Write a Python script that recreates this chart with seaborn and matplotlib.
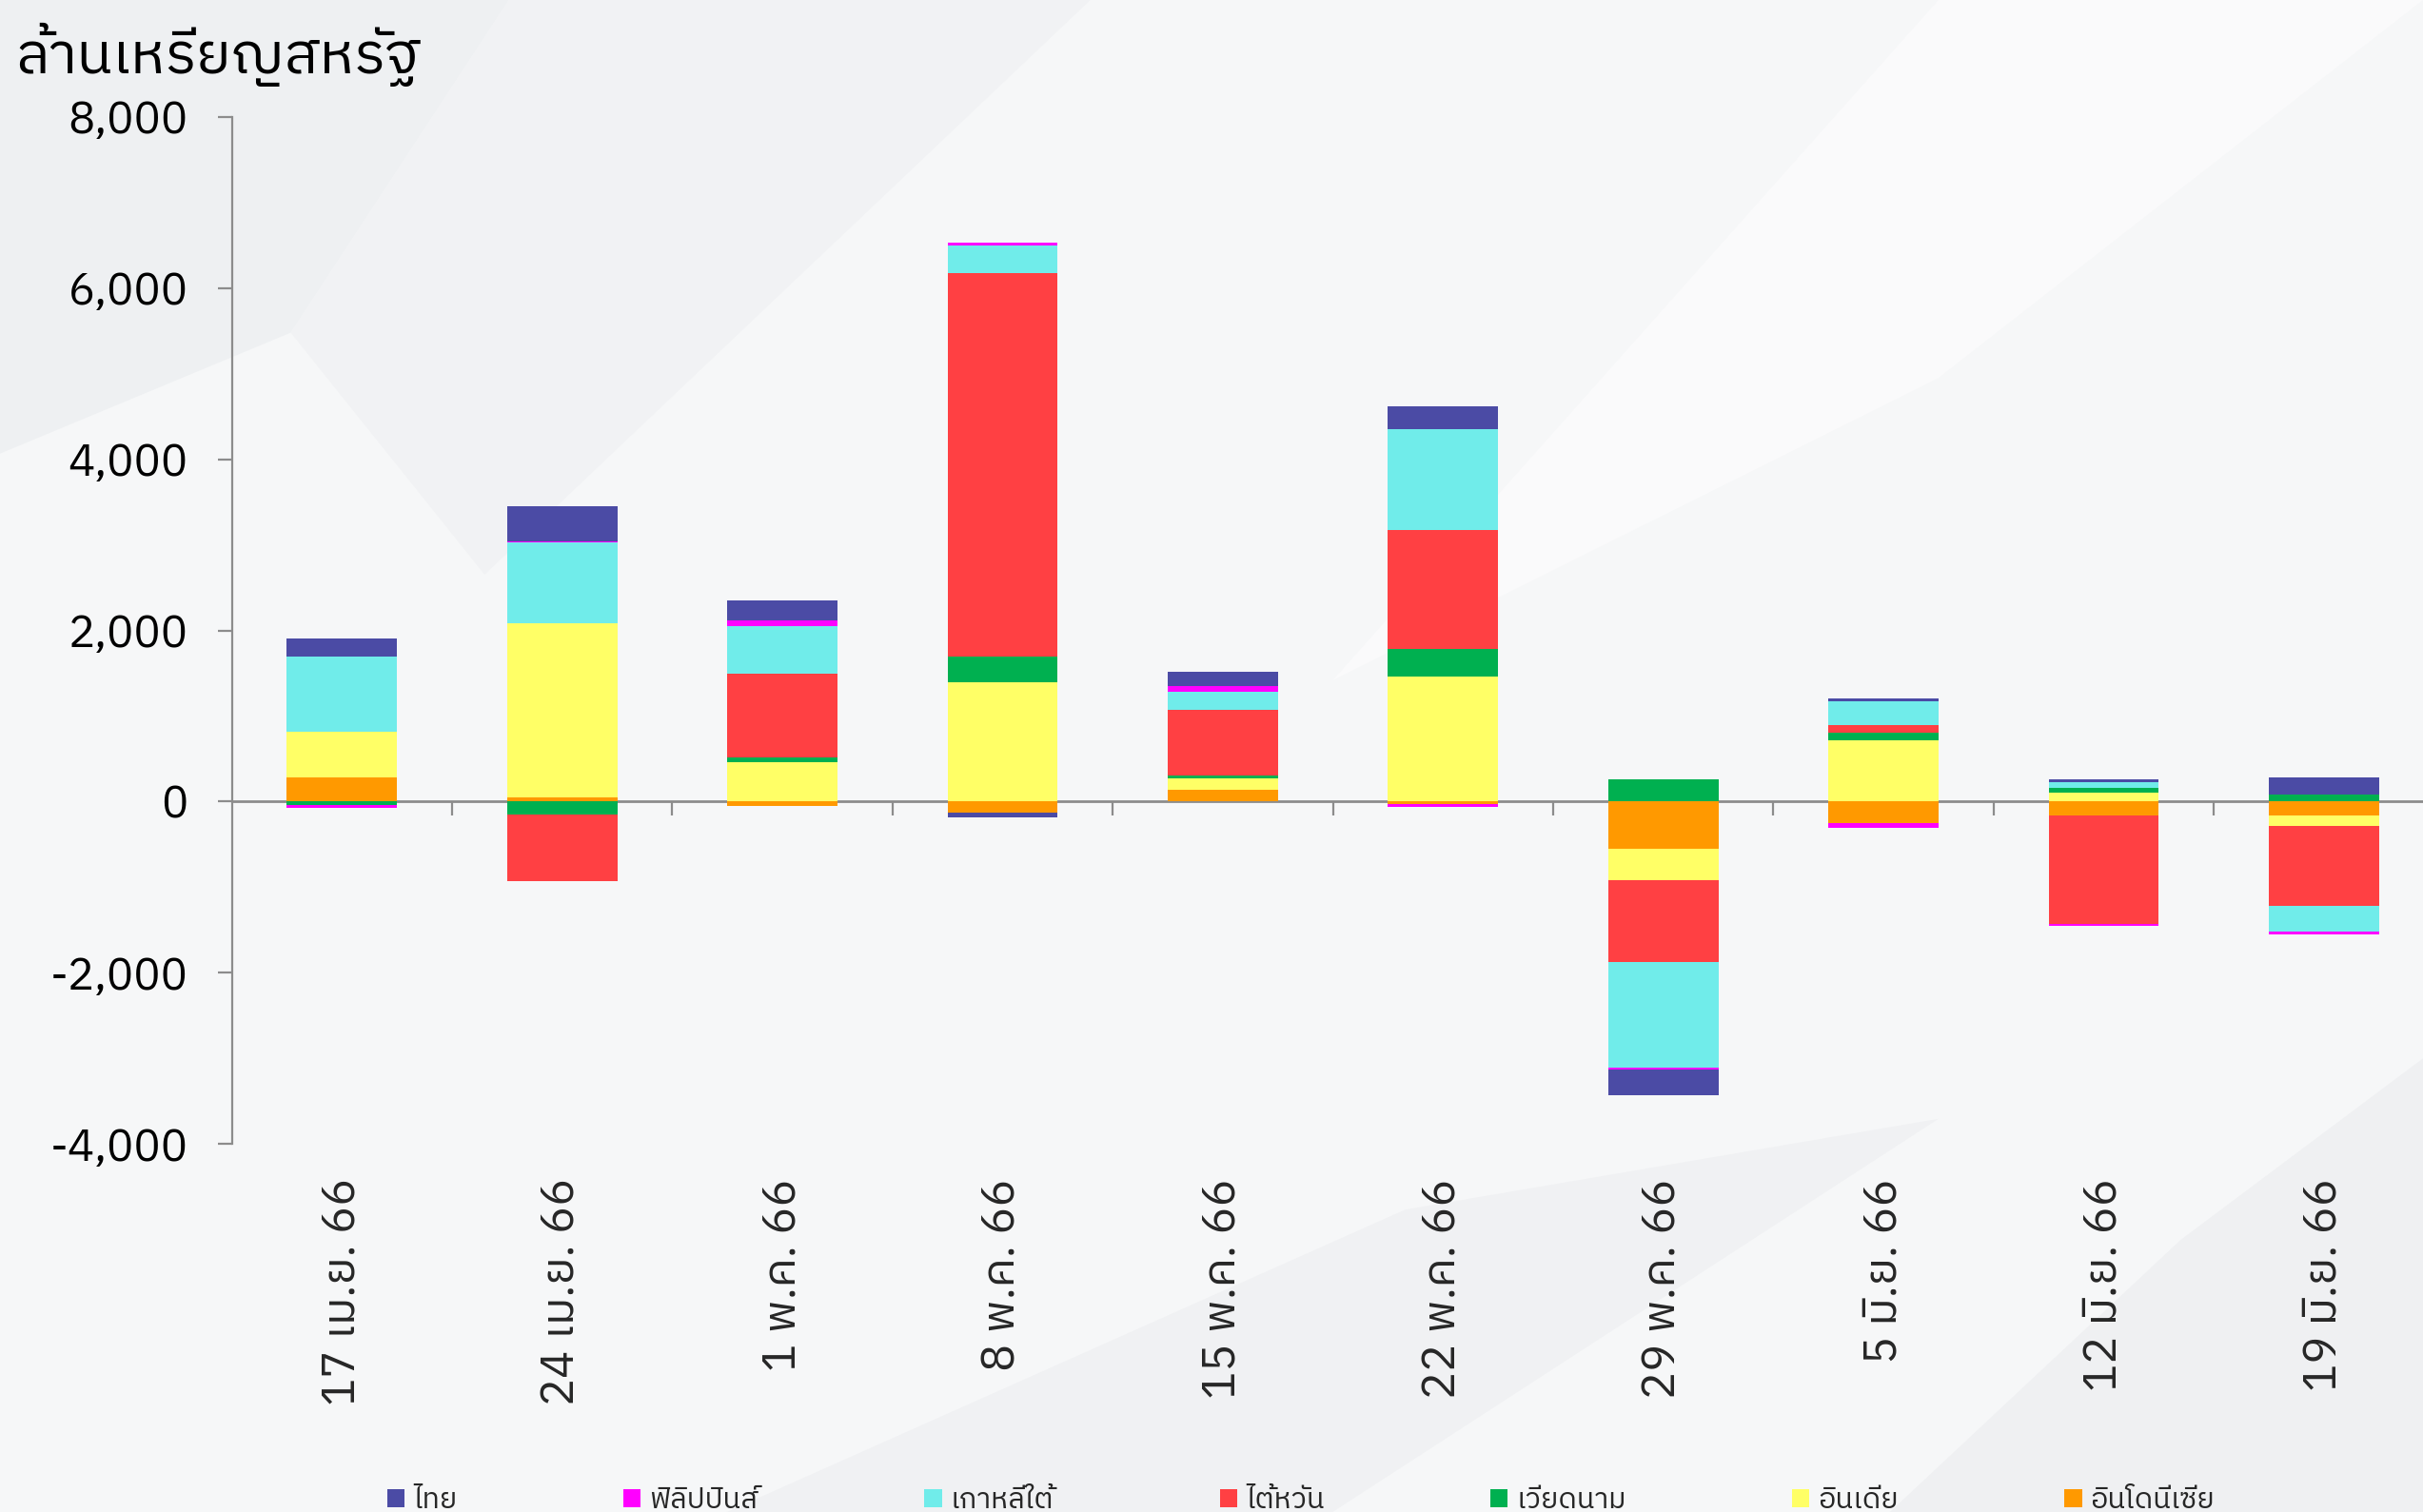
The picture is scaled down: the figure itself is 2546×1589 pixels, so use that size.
import numpy as np
import matplotlib
matplotlib.use("Agg")
import matplotlib.pyplot as plt
import seaborn as sns
from matplotlib import font_manager as fm
from matplotlib.patches import Polygon

# ---------------- data ----------------
categories = ["17 เม.ย. 66", "24 เม.ย. 66", "1 พ.ค. 66", "8 พ.ค. 66", "15 พ.ค. 66",
              "22 พ.ค. 66", "29 พ.ค. 66", "5 มิ.ย. 66", "12 มิ.ย. 66", "19 มิ.ย. 66"]
thai        = [208, 415, 234, -55, 170, 268, -302, 33, 28, 205]
philippines = [-35, 15, 63, 29, 63, -30, -28, -57, -28, -34]
korea       = [880, 945, 560, 329, 214, 1180, -1234, 273, 74, -296]
taiwan      = [0, -778, 970, 4477, 771, 1383, -949, 86, -1265, -936]
vietnam     = [-40, -150, 63, 299, 26, 323, 259, 90, 56, 77]
india       = [535, 2035, 457, 1397, 135, 1462, -376, 720, 101, -119]
indonesia   = [282, 45, -48, -135, 138, -30, -548, -253, -165, -165]

legend_names = ["ไทย", "ฟิลิปปินส์", "เกาหลีใต้", "ไต้หวัน", "เวียดนาม", "อินเดีย", "อินโดนีเซีย"]
y_label = "ล้านเหรียญสหรัฐ"
yticks = [-4000, -2000, 0, 2000, 4000, 6000, 8000]

# ---------------- fonts ----------------
sns.set_theme(style="white")

def find_thai_font():
    try:
        from fontTools.ttLib import TTFont
    except Exception:
        return None
    cands = []
    for f in fm.fontManager.ttflist:
        try:
            tt = TTFont(f.fname, fontNumber=0, lazy=True)
            cmap = tt.getBestCmap()
            if cmap and 0x0E01 in cmap and 0x0E49 in cmap and 0x0E2D in cmap:
                cands.append(f.name)
        except Exception:
            pass
    if not cands:
        return None
    pref = [c for c in cands if "Tahoma" in c or "Thai" in c]
    return (pref or cands)[0]

thai_font = find_thai_font()
fams = ([thai_font] if thai_font else []) + ["DejaVu Sans"]
plt.rcParams["font.family"] = fams

# ---------------- figure ----------------
W, H = 2546, 1589
fig = plt.figure(figsize=(W / 100, H / 100), dpi=100)
fig.patch.set_facecolor("#f6f7f8")

# subtle background swooshes
bg = fig.add_axes([0, 0, 1, 1], zorder=-10)
bg.set_xlim(0, 1); bg.set_ylim(0, 1); bg.axis("off")
bg.add_patch(Polygon([[0, 1], [0.21, 1], [0.12, 0.78], [0.0, 0.70]], closed=True, color="#eef0f2", lw=0))
bg.add_patch(Polygon([[0.21, 1], [0.45, 1], [0.20, 0.62], [0.12, 0.78]], closed=True, color="#f1f2f4", lw=0))
bg.add_patch(Polygon([[0.30, 0.0], [0.55, 0.0], [0.80, 0.26], [0.58, 0.20]], closed=True, color="#f0f1f3", lw=0))
bg.add_patch(Polygon([[0.78, 0.0], [1.0, 0.0], [1.0, 0.30], [0.90, 0.18]], closed=True, color="#eff0f2", lw=0))
bg.add_patch(Polygon([[0.55, 0.55], [0.80, 0.75], [1.0, 1.0], [0.80, 1.0]], closed=True, color="#fafafb", lw=0))

left = 243.6 / W
bottom = 1 - 1202 / H
top = 1 - 123 / H
width = (231.4 * 10) / W
ax = fig.add_axes([left, bottom, width, top - bottom])
ax.set_facecolor("none")

colors = {
    "ไทย": "#4B4BA5",
    "ฟิลิปปินส์": "#FF00FF",
    "เกาหลีใต้": "#70ECEA",
    "ไต้หวัน": "#FF4043",
    "เวียดนาม": "#00B050",
    "อินเดีย": "#FFFF66",
    "อินโดนีเซีย": "#FF9900",
}
series = {
    "ไทย": thai, "ฟิลิปปินส์": philippines, "เกาหลีใต้": korea, "ไต้หวัน": taiwan,
    "เวียดนาม": vietnam, "อินเดีย": india, "อินโดนีเซีย": indonesia,
}
stack_order = ["อินโดนีเซีย", "อินเดีย", "เวียดนาม", "ไต้หวัน", "เกาหลีใต้", "ฟิลิปปินส์", "ไทย"]

x = np.arange(len(categories))
pos_base = np.zeros(len(categories))
neg_base = np.zeros(len(categories))
handles = {}
for name in stack_order:
    v = np.array(series[name], dtype=float)
    b = np.where(v >= 0, pos_base, neg_base)
    h = ax.bar(x, v, width=0.5, bottom=b, color=colors[name], edgecolor="none",
               linewidth=0, label=name, zorder=3)
    handles[name] = h
    pos_base = pos_base + np.where(v > 0, v, 0)
    neg_base = neg_base + np.where(v < 0, v, 0)

ax.set_xlim(-0.5, len(categories) - 0.5)
ax.set_ylim(-4000, 8000)
ax.set_yticks(yticks)
ax.set_yticklabels([f"{t:,}" for t in yticks])

# spines
for s in ["top", "right"]:
    ax.spines[s].set_visible(False)
ax.spines["left"].set_color("#8c8c8c")
ax.spines["left"].set_linewidth(1.6)
ax.spines["bottom"].set_position(("data", 0))
ax.spines["bottom"].set_color("#8c8c8c")
ax.spines["bottom"].set_linewidth(2.0)

ax.set_xticks(x[:-1] + 0.5)
ax.set_xticklabels([])
ax.tick_params(axis="x", direction="out", length=11, width=1.6, color="#8c8c8c", bottom=True)
ax.tick_params(axis="y", direction="out", length=11, width=1.6, color="#8c8c8c", left=True,
               labelsize=34, pad=22, labelcolor="black")
ax.grid(False)

sec = ax.secondary_xaxis(location=0)
sec.set_xticks(x)
sec.set_xticklabels(categories, rotation=90, fontsize=35, va="top", ha="center")
sec.tick_params(length=0, pad=26)
sec.spines["bottom"].set_visible(False)

fig.text(16 / W, 1 - 57 / H, y_label, fontsize=44, ha="left", va="center", color="black")

leg = fig.legend([handles[n] for n in legend_names], legend_names, loc="center",
                 bbox_to_anchor=(0.537, 0.008), ncol=7, frameon=False, fontsize=22,
                 handlelength=0.6, handleheight=0.6, handletextpad=0.3, columnspacing=5.7)

fig.savefig("out.png", dpi=100, facecolor=fig.get_facecolor())
